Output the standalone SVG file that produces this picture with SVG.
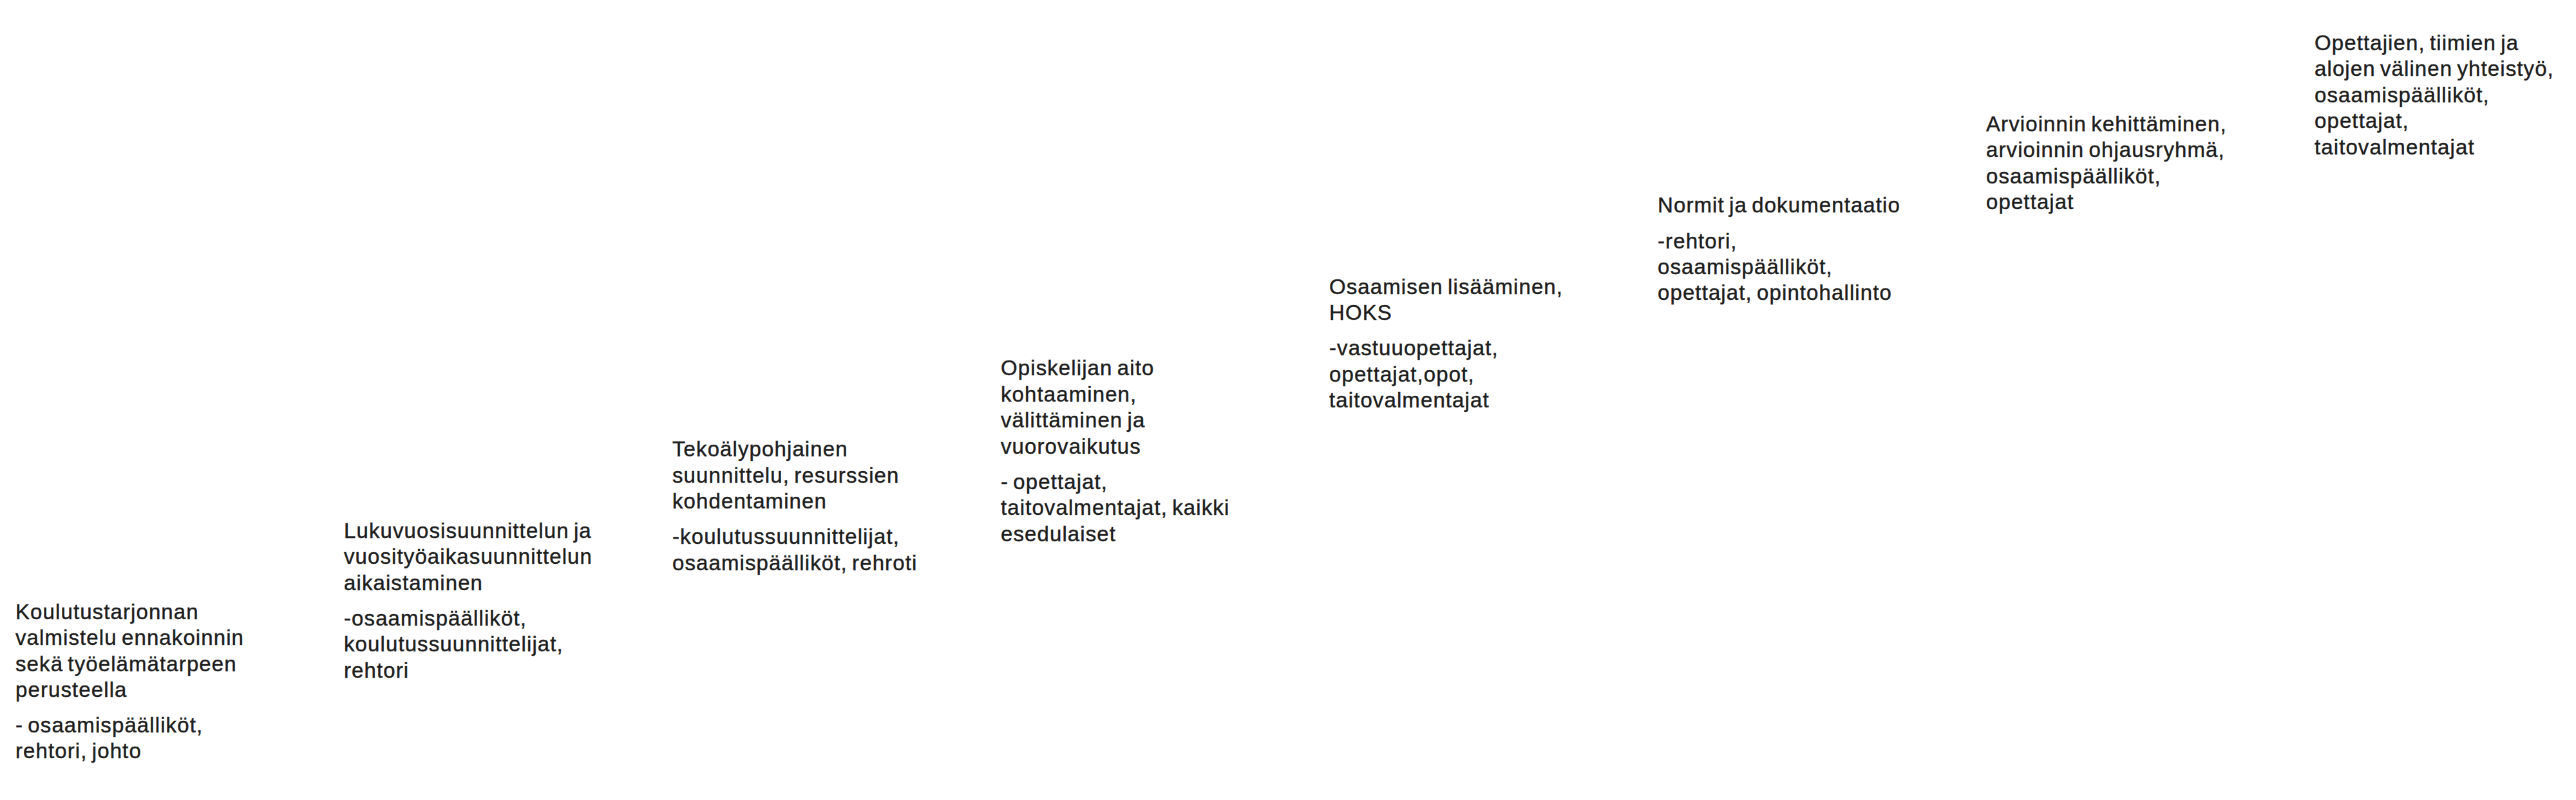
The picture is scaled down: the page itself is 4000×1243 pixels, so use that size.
<svg xmlns="http://www.w3.org/2000/svg" width="4000" height="1243" viewBox="0 0 4000 1243">
<style>
  .t { font-family: "Liberation Sans", Arial, sans-serif; font-size: 33px; letter-spacing: 1.1px; word-spacing: -3px; fill: #1e1e1e; stroke: #1e1e1e; stroke-width: 0.5px; }
</style>
<rect x="0" y="0" width="4000" height="1243" fill="#ffffff"/>
<g id="connectors"></g>
<g id="step1">
  <text class="t">
    <tspan x="24" y="962">Koulutustarjonnan</tspan>
    <tspan x="24" y="1002">valmistelu ennakoinnin</tspan>
    <tspan x="24" y="1043">sekä työelämätarpeen</tspan>
    <tspan x="24" y="1083">perusteella</tspan>
    <tspan x="24" y="1138">- osaamispäälliköt,</tspan>
    <tspan x="24" y="1178">rehtori, johto</tspan>
  </text>
</g>
<g id="step2">
  <text class="t">
    <tspan x="534" y="836">Lukuvuosisuunnittelun ja</tspan>
    <tspan x="534" y="876">vuosityöaikasuunnittelun</tspan>
    <tspan x="534" y="917">aikaistaminen</tspan>
    <tspan x="534" y="972">-osaamispäälliköt,</tspan>
    <tspan x="534" y="1012">koulutussuunnittelijat,</tspan>
    <tspan x="534" y="1053">rehtori</tspan>
  </text>
</g>
<g id="step3">
  <text class="t">
    <tspan x="1044" y="709">Tekoälypohjainen</tspan>
    <tspan x="1044" y="750">suunnittelu, resurssien</tspan>
    <tspan x="1044" y="790">kohdentaminen</tspan>
    <tspan x="1044" y="845">-koulutussuunnittelijat,</tspan>
    <tspan x="1044" y="886">osaamispäälliköt, rehroti</tspan>
  </text>
</g>
<g id="step4">
  <text class="t">
    <tspan x="1554" y="583">Opiskelijan aito</tspan>
    <tspan x="1554" y="624">kohtaaminen,</tspan>
    <tspan x="1554" y="664">välittäminen ja</tspan>
    <tspan x="1554" y="705">vuorovaikutus</tspan>
    <tspan x="1554" y="760">- opettajat,</tspan>
    <tspan x="1554" y="800">taitovalmentajat, kaikki</tspan>
    <tspan x="1554" y="841">esedulaiset</tspan>
  </text>
</g>
<g id="step5">
  <text class="t">
    <tspan x="2064" y="457">Osaamisen lisääminen,</tspan>
    <tspan x="2064" y="497">HOKS</tspan>
    <tspan x="2064" y="552">-vastuuopettajat,</tspan>
    <tspan x="2064" y="593">opettajat,opot,</tspan>
    <tspan x="2064" y="633">taitovalmentajat</tspan>
  </text>
</g>
<g id="step6">
  <text class="t">
    <tspan x="2574" y="330">Normit ja dokumentaatio</tspan>
    <tspan x="2574" y="386">-rehtori,</tspan>
    <tspan x="2574" y="426">osaamispäälliköt,</tspan>
    <tspan x="2574" y="466">opettajat, opintohallinto</tspan>
  </text>
</g>
<g id="step7">
  <text class="t">
    <tspan x="3084" y="204">Arvioinnin kehittäminen,</tspan>
    <tspan x="3084" y="244">arvioinnin ohjausryhmä,</tspan>
    <tspan x="3084" y="285">osaamispäälliköt,</tspan>
    <tspan x="3084" y="325">opettajat</tspan>
  </text>
</g>
<g id="step8">
  <text class="t">
    <tspan x="3594" y="78">Opettajien, tiimien ja</tspan>
    <tspan x="3594" y="118">alojen välinen yhteistyö,</tspan>
    <tspan x="3594" y="159">osaamispäälliköt,</tspan>
    <tspan x="3594" y="199">opettajat,</tspan>
    <tspan x="3594" y="240">taitovalmentajat</tspan>
  </text>
</g>
</svg>
